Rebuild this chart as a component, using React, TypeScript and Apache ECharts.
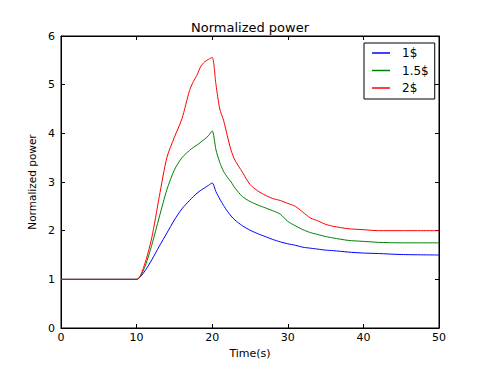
import React, { useEffect, useRef } from "react";
import * as echarts from "echarts";

const times = [0, 10, 11, 12, 13, 14, 15, 16, 17, 17.5, 18, 18.5, 19, 19.5, 20, 20.5, 21, 21.5, 22, 22.5, 23, 24, 25, 26, 27, 28, 29, 30, 31, 32, 33, 34, 35, 36, 38, 40, 42, 45, 50];

const power1 = [1, 1, 1.15, 1.4, 1.68, 1.95, 2.22, 2.45, 2.62, 2.7, 2.77, 2.83, 2.88, 2.93, 2.98, 2.8, 2.65, 2.52, 2.4, 2.3, 2.22, 2.1, 2.01, 1.94, 1.88, 1.82, 1.77, 1.73, 1.7, 1.66, 1.64, 1.62, 1.6, 1.59, 1.56, 1.54, 1.53, 1.51, 1.5];
const power15 = [1, 1, 1.22, 1.7, 2.28, 2.84, 3.25, 3.5, 3.65, 3.71, 3.76, 3.82, 3.88, 3.95, 4.05, 3.66, 3.4, 3.22, 3.1, 3.0, 2.88, 2.7, 2.6, 2.53, 2.47, 2.41, 2.34, 2.19, 2.1, 2.02, 1.96, 1.92, 1.88, 1.85, 1.8, 1.78, 1.76, 1.75, 1.75];
const power2 = [1, 1, 1.28, 1.85, 2.7, 3.5, 3.92, 4.3, 4.88, 5.06, 5.2, 5.38, 5.47, 5.52, 5.56, 5.0, 4.5, 4.27, 3.95, 3.65, 3.45, 3.2, 2.95, 2.82, 2.73, 2.66, 2.62, 2.56, 2.5, 2.38, 2.26, 2.2, 2.13, 2.09, 2.04, 2.02, 2.0, 2.0, 2.0];

const seriesNames = ["1$", "1.5$", "2$"];
const seriesColors = ["#0000ff", "#008000", "#ff0000"];
const seriesValues = [power1, power15, power2];

const xTicks = [0, 10, 20, 30, 40, 50];
const yTicks = [0, 1, 2, 3, 4, 5, 6];

const FONT = "DejaVu Sans";

export default function App() {
  const ref = useRef<HTMLDivElement>(null);
  useEffect(() => {
    if (!ref.current) return;
    const chart = echarts.init(ref.current, null, { renderer: "svg" });
    const axisCommon = {
      axisLine: { show: true, onZero: false, lineStyle: { color: "#000", width: 1 } },
      axisTick: { show: true, inside: true, length: 4, lineStyle: { color: "#000", width: 1 } },
      splitLine: { show: false },
    };
    chart.setOption({
      animation: false,
      backgroundColor: "#fff",
      title: {
        text: "Normalized power",
        left: 250,
        top: 21,
        padding: 0,
        textAlign: "center",
        textStyle: { fontFamily: FONT, fontSize: 13, fontWeight: "normal", color: "#000" },
      },
      legend: {
        orient: "vertical",
        left: 364,
        top: 43,
        padding: [2, 6, 3, 8],
        itemGap: 1.5,
        itemWidth: 18,
        itemHeight: 1.5,
        borderColor: "#000",
        borderWidth: 1,
        borderRadius: 0,
        backgroundColor: "#fff",
        icon: "rect",
        data: seriesNames,
        textStyle: { fontFamily: FONT, fontSize: 12, lineHeight: 16, height: 16, color: "#000", padding: [0, 0, 0, 7] },
      },
      grid: { left: 61, right: 49, top: 36, bottom: 37, containLabel: false, show: true, borderColor: "#000", borderWidth: 1 },
      xAxis: [
        {
          type: "value",
          min: 0,
          max: 50,
          interval: 10,
          name: "Time(s)",
          nameLocation: "middle",
          nameGap: 16,
          nameTextStyle: { fontFamily: FONT, fontSize: 11, color: "#000" },
          axisLabel: { fontFamily: FONT, fontSize: 11, color: "#000", margin: 4, formatter: (v: number) => (xTicks.includes(v) ? String(v) : "") },
          ...axisCommon,
        },
        {
          type: "value",
          position: "top",
          min: 0,
          max: 50,
          interval: 10,
          axisLabel: { show: false },
          ...axisCommon,
        },
      ],
      yAxis: [
        {
          type: "value",
          min: 0,
          max: 6,
          interval: 1,
          name: "Normalized power",
          nameLocation: "middle",
          nameGap: 14,
          nameTextStyle: { fontFamily: FONT, fontSize: 10.5, color: "#000" },
          axisLabel: { fontFamily: FONT, fontSize: 11, color: "#000", margin: 6, formatter: (v: number) => (yTicks.includes(v) ? String(v) : "") },
          ...axisCommon,
        },
        {
          type: "value",
          position: "right",
          min: 0,
          max: 6,
          interval: 1,
          axisLabel: { show: false },
          ...axisCommon,
        },
      ],
      series: seriesNames.map((name, i) => ({
        name,
        type: "line",
        xAxisIndex: 0,
        yAxisIndex: 0,
        showSymbol: false,
        smooth: 0.25,
        color: seriesColors[i],
        itemStyle: { color: seriesColors[i] },
        lineStyle: { color: seriesColors[i], width: 1 },
        data: times.map((t, j) => [t, seriesValues[i][j]]),
      })),
    });
    return () => chart.dispose();
  }, []);
  return <div ref={ref} style={{ width: 488, height: 365, position: "absolute", left: 0, top: 0 }} />;
}
